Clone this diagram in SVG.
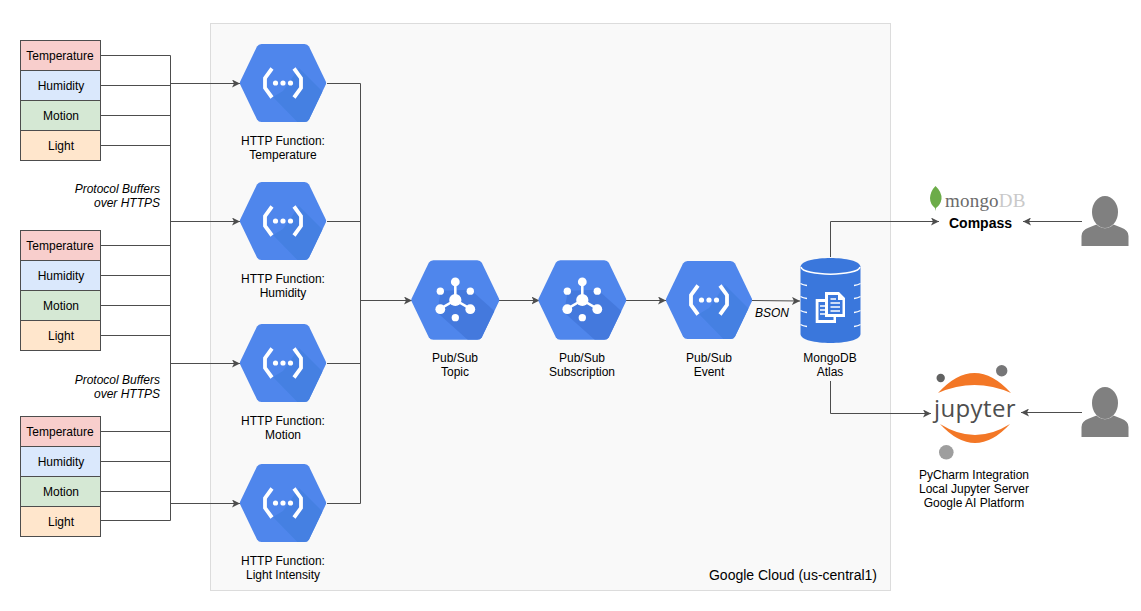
<svg xmlns="http://www.w3.org/2000/svg" xmlns:xlink="http://www.w3.org/1999/xlink" width="1141" height="611" viewBox="0 0 1141 611">
<style>
text{font-family:"Liberation Sans",Arial,sans-serif;font-size:12px;fill:#000;text-anchor:middle}
.it{font-style:italic;text-anchor:end}
.box{stroke:#4d4d4d;stroke-width:1}
.t{fill:#f8cecc}.h{fill:#dae8fc}.m{fill:#d5e8d4}.l{fill:#ffe6cc}
.c{fill:none;stroke:#4d4d4d;stroke-width:1}
.w{fill:#fff}
</style>
<defs>
<marker id="arr" markerUnits="userSpaceOnUse" markerWidth="9" markerHeight="8" refX="8" refY="4" orient="auto"><path d="M0 0L8 4L0 8L2 4Z" fill="#4d4d4d"/></marker>
<clipPath id="hexclip"><path d="M-21.500 -39H21.500Q24.500 -39 26 -36.500L42.800 -1.500Q43.500 0 42.800 1.500L26 36.500Q24.500 39 21.500 39H-21.500Q-24.500 39 -26 36.500L-42.800 1.500Q-43.500 0 -42.800 -1.500L-26 -36.500Q-24.500 -39 -21.500 -39Z"/></clipPath>
<g id="hex"><path d="M-21.500 -39H21.500Q24.500 -39 26 -36.500L42.800 -1.500Q43.500 0 42.800 1.500L26 36.500Q24.500 39 21.500 39H-21.500Q-24.500 39 -26 36.500L-42.800 1.500Q-43.500 0 -42.800 -1.500L-26 -36.500Q-24.500 -39 -21.500 -39Z" fill="#4f86ec"/></g>
<g id="fn"><use xlink:href="#hex"/>
<path d="M16 -15L60 29L30 55L-10 14L0 8Z" fill="#4580e2" clip-path="url(#hexclip)"/>
<path d="M-11 -14.500L-18 -5V5L-11 14.500M11 -14.500L18 -5V5L11 14.500" fill="none" stroke="#fff" stroke-width="3.800"/>
<circle cx="-7.500" cy="0" r="2.600" class="w"/><circle cx="0" cy="0" r="2.600" class="w"/><circle cx="7.500" cy="0" r="2.600" class="w"/></g>
<g id="ps"><use xlink:href="#hex"/>
<path d="M15 -10L60 30L30 55L-18 12L-14 -9Z" fill="#4479dd" clip-path="url(#hexclip)"/>
<path d="M0 -17V0L14.500 8.500M0 0L-14.500 8.500" stroke="#fff" stroke-width="2.500" fill="none"/>
<circle r="6" class="w"/><circle cy="-17.700" r="4.300" class="w"/><circle cy="17.300" r="3.600" class="w"/>
<circle cx="-14.700" cy="-8.700" r="3.600" class="w"/><circle cx="14.700" cy="-8.700" r="3.600" class="w"/>
<circle cx="-14.700" cy="9" r="4.800" class="w"/><circle cx="14.700" cy="9" r="4.800" class="w"/></g>
<g id="person" fill="#808080"><ellipse cx="0" cy="0" rx="13" ry="16"/><path d="M-23.500 34V24Q-23.500 18 -16 15.500L-8.500 12.500Q0 20 8.500 12.500L16 15.500Q23.500 18 23.500 24V34Z"/></g>
</defs>
<rect width="1141" height="611" fill="#fff"/>
<rect id="cloud" x="210.500" y="23.500" width="680" height="567" fill="#f9f9f9" stroke="#dcdcdc"/>
<text x="793" y="580" style="font-size:14px">Google Cloud (us-central1)</text>
<g id="connectors" class="c">
<path d="M100.500 55.500H170.500V520.500M100.500 85.500H170.500M100.500 115.500H170.500M100.500 145.500H170.500"/>
<path d="M100.500 245.500H170.500M100.500 275.500H170.500M100.500 305.500H170.500M100.500 335.500H170.500"/>
<path d="M100.500 431.500H170.500M100.500 461.500H170.500M100.500 491.500H170.500M100.500 520.500H170.500"/>
<path d="M170.500 83.500H240" marker-end="url(#arr)"/>
<path d="M170.500 221.500H240" marker-end="url(#arr)"/>
<path d="M170.500 363.500H240" marker-end="url(#arr)"/>
<path d="M170.500 503.500H240" marker-end="url(#arr)"/>
<path d="M327 83.500H360.500V503.500H327M327 221.500H360.500M327 363.500H360.500"/>
<path d="M360.500 300.500H412" marker-end="url(#arr)"/>
<path d="M498.500 300.500H539.500" marker-end="url(#arr)"/>
<path d="M626 300.500H666" marker-end="url(#arr)"/>
<path d="M752 300.500L800 301" marker-end="url(#arr)"/>
<path d="M830.500 257V221.500H939" marker-end="url(#arr)"/>
<path d="M830.500 381V413.500H931" marker-end="url(#arr)"/>
<path d="M1082 221.500H1023" marker-end="url(#arr)"/>
<path d="M1082 412.500H1021" marker-end="url(#arr)"/>
</g>
<g id="sensors1"><rect x="20.500" y="40.500" width="80" height="30" class="box t"/><rect x="20.500" y="70.500" width="80" height="30" class="box h"/><rect x="20.500" y="100.500" width="80" height="30" class="box m"/><rect x="20.500" y="130.500" width="80" height="30" class="box l"/>
<text x="60" y="60">Temperature</text><text x="61" y="90">Humidity</text><text x="61" y="120">Motion</text><text x="61" y="150">Light</text></g>
<g id="sensors2"><rect x="20.500" y="230.500" width="80" height="30" class="box t"/><rect x="20.500" y="260.500" width="80" height="30" class="box h"/><rect x="20.500" y="290.500" width="80" height="30" class="box m"/><rect x="20.500" y="320.500" width="80" height="30" class="box l"/>
<text x="60" y="250">Temperature</text><text x="61" y="280">Humidity</text><text x="61" y="310">Motion</text><text x="61" y="340">Light</text></g>
<g id="sensors3"><rect x="20.500" y="416.500" width="80" height="30" class="box t"/><rect x="20.500" y="446.500" width="80" height="30" class="box h"/><rect x="20.500" y="476.500" width="80" height="30" class="box m"/><rect x="20.500" y="506.500" width="80" height="30" class="box l"/>
<text x="60" y="436">Temperature</text><text x="61" y="466">Humidity</text><text x="61" y="496">Motion</text><text x="61" y="526">Light</text></g>
<g id="label-pb1"><text x="160" y="193" class="it">Protocol Buffers</text><text x="160" y="207" class="it">over HTTPS</text></g>
<g id="label-pb2"><text x="160" y="384" class="it">Protocol Buffers</text><text x="160" y="398" class="it">over HTTPS</text></g>
<g id="fn-temperature"><use xlink:href="#fn" x="283" y="83"/><text x="283" y="145">HTTP Function:</text><text x="283" y="159">Temperature</text></g>
<g id="fn-humidity"><use xlink:href="#fn" x="283" y="221"/><text x="283" y="283">HTTP Function:</text><text x="283" y="297">Humidity</text></g>
<g id="fn-motion"><use xlink:href="#fn" x="283" y="363"/><text x="283" y="425">HTTP Function:</text><text x="283" y="439">Motion</text></g>
<g id="fn-light"><use xlink:href="#fn" x="283" y="503"/><text x="283" y="565">HTTP Function:</text><text x="283" y="579">Light Intensity</text></g>
<g id="pubsub-topic"><use xlink:href="#ps" transform="translate(455.300 300) scale(1.02)"/><text x="455" y="362">Pub/Sub</text><text x="455" y="376">Topic</text></g>
<g id="pubsub-subscription"><use xlink:href="#ps" transform="translate(582.300 300) scale(1.02)"/><text x="582" y="362">Pub/Sub</text><text x="582" y="376">Subscription</text></g>
<g id="pubsub-event"><use xlink:href="#fn" x="709" y="300"/><text x="709" y="362">Pub/Sub</text><text x="709" y="376">Event</text></g>
<text x="772" y="317" style="font-style:italic">BSON</text>
<g id="mongodb-atlas">
<path d="M800.500 267C800.500 255 860.500 255 860.500 267V334C860.500 346 800.500 346 800.500 334Z" fill="#3a77dc"/>
<path d="M801 267C803 276.500 858 276.500 860 267" fill="none" stroke="#fff" stroke-width="1.500"/>
<path d="M800.500 283.500Q803 285 807 285.500M860.500 283.500Q858 285 854 285.500M800.500 296.500Q803 298 807 298.500M860.500 296.500Q858 298 854 298.500M800.500 310.500Q803 312 807 312.500M860.500 310.500Q858 312 854 312.500M800.500 324.500Q803 326 807 326.500M860.500 324.500Q858 326 854 326.500" fill="none" stroke="#fff" stroke-width="1.300"/>
<path d="M815.700 299H825V292H839L845 298V317H836V323H815.700Z" fill="#fff"/>
<path d="M818.500 302H825V317H833.500V320H818.500Z" fill="#3a77dc"/>
<path d="M828 295H838V300H842.500V314H828Z" fill="#3a77dc"/>
<path d="M830.500 299H836M830.500 303H840M830.500 307H840M830.500 311H840M820 306H825M820 310H825M820 314H825" stroke="#fff" stroke-width="1.300" fill="none"/>
<text x="830" y="362">MongoDB</text><text x="830" y="376">Atlas</text></g>
<g id="compass">
<path d="M935.500 186Q942 192 941.500 199Q940.500 205 936 208L935.500 211L935 208Q930 204 930 198Q930.500 191 935.500 186Z" fill="#6cac48"/>
<text x="945" y="207" style="font-family:'Liberation Serif',serif;font-size:19px;text-anchor:start;fill:#6b6b6b;letter-spacing:.2px">mongo<tspan fill="#c9c9c9">DB</tspan></text>
<text x="980.500" y="228" style="font-weight:bold;font-size:14px">Compass</text></g>
<g id="jupyter">
<path d="M938 393Q974.500 353 1011 393Q974.500 377 938 393Z" fill="#f37726"/>
<path d="M940 424Q975 462 1010 424Q975 446 940 424Z" fill="#f37726"/>
<circle cx="940.700" cy="378" r="4.200" fill="#616262"/><circle cx="1001.700" cy="370.700" r="5.700" fill="#767677"/><circle cx="946.300" cy="452.300" r="7.300" fill="#9e9e9e"/>
<text x="975" y="417" style="font-family:'Open Sans',sans-serif;font-size:24px;fill:#4e4e4e;letter-spacing:.4px">jupyter</text>
<text x="974" y="479">PyCharm Integration</text><text x="974" y="493">Local Jupyter Server</text><text x="974" y="507">Google AI Platform</text></g>
<g id="user-compass"><use xlink:href="#person" x="1105" y="212"/></g>
<g id="user-jupyter"><use xlink:href="#person" x="1105" y="403"/></g>
</svg>
